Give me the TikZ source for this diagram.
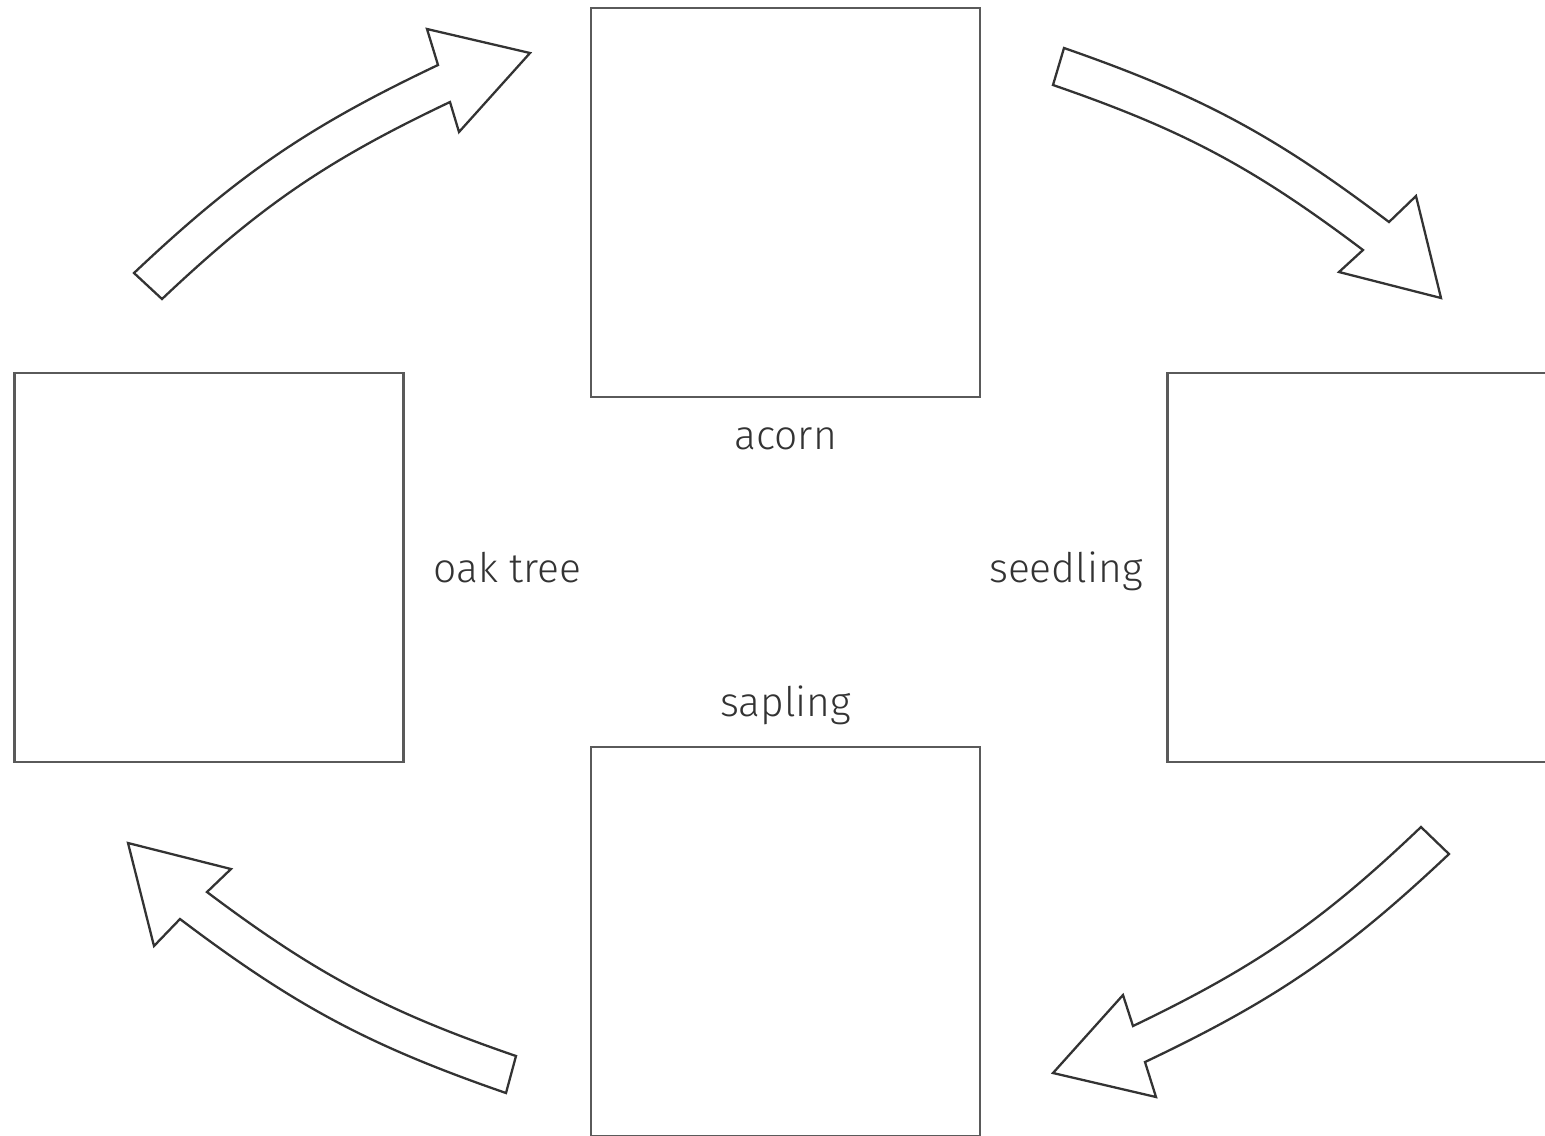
\documentclass[tikz,border=0pt]{standalone}
\usepackage{fontspec}
\setmainfont{Fira Sans}[UprightFont=* Light]
\usepackage{tikz}
\usetikzlibrary{positioning}

\definecolor{boxgray}{HTML}{5A5A5A}
\definecolor{inkgray}{HTML}{333333}

\tikzset{
  cardbox/.style={draw=boxgray, line width=0.7pt, minimum width=38.9mm,
    minimum height=38.9mm, inner sep=0pt},
  stagelbl/.style={text=inkgray, font=\fontsize{11.6}{13}\selectfont, inner sep=0pt},
  cyclearrow/.style={draw=inkgray, line width=0.65pt, line join=miter, fill=white}
}

\begin{document}
\begin{tikzpicture}[x=0.1mm, y=-0.1mm]
    \useasboundingbox (0,0) rectangle (1545,1135);

    \node[cardbox] (acorn) at (785.5,202.5) {};
    \node[cardbox] (oaktree) at (209,567.5) {};
    \node[cardbox] (seedling) at (1362,567.5) {};
    \node[cardbox] (sapling) at (785.5,941.5) {};

    \node[stagelbl, anchor=base] (acornlbl) at ([yshift=-5.1mm]acorn.south) {acorn};
    \node[stagelbl, anchor=base west] (oaklbl) at ([xshift=2.8mm, yshift=-1.45mm]oaktree.east) {oak tree};
    \node[stagelbl, anchor=base east] (seedlbl) at ([xshift=-2.3mm, yshift=-1.45mm]seedling.west) {seedling};
    \node[stagelbl, anchor=base] (saplbl) at ([yshift=2.9mm]sapling.north) {sapling};

    % block arrows round the cycle
    \draw[cyclearrow] (134,273) to[bend left=9] (438,65) -- (427,29) -- (530,53)
      -- (459,132) -- (450,102) to[bend right=9] (162,299) -- cycle;
    \draw[cyclearrow] (1064,48) to[bend left=9] (1389,222) -- (1416,196) -- (1441,298)
      -- (1339,272) -- (1363,250) to[bend right=9] (1053,85) -- cycle;
    \draw[cyclearrow] (1421,827) to[bend left=9] (1133,1026) -- (1123,995) -- (1053,1073)
      -- (1156,1097) -- (1145,1062) to[bend right=9] (1449,854) -- cycle;
    \draw[cyclearrow] (128,843) -- (231,869) -- (207,892) to[bend right=9] (516,1056)
      -- (506,1093) to[bend left=9] (180,919) -- (154,946) -- cycle;
  \end{tikzpicture}
\end{document}
